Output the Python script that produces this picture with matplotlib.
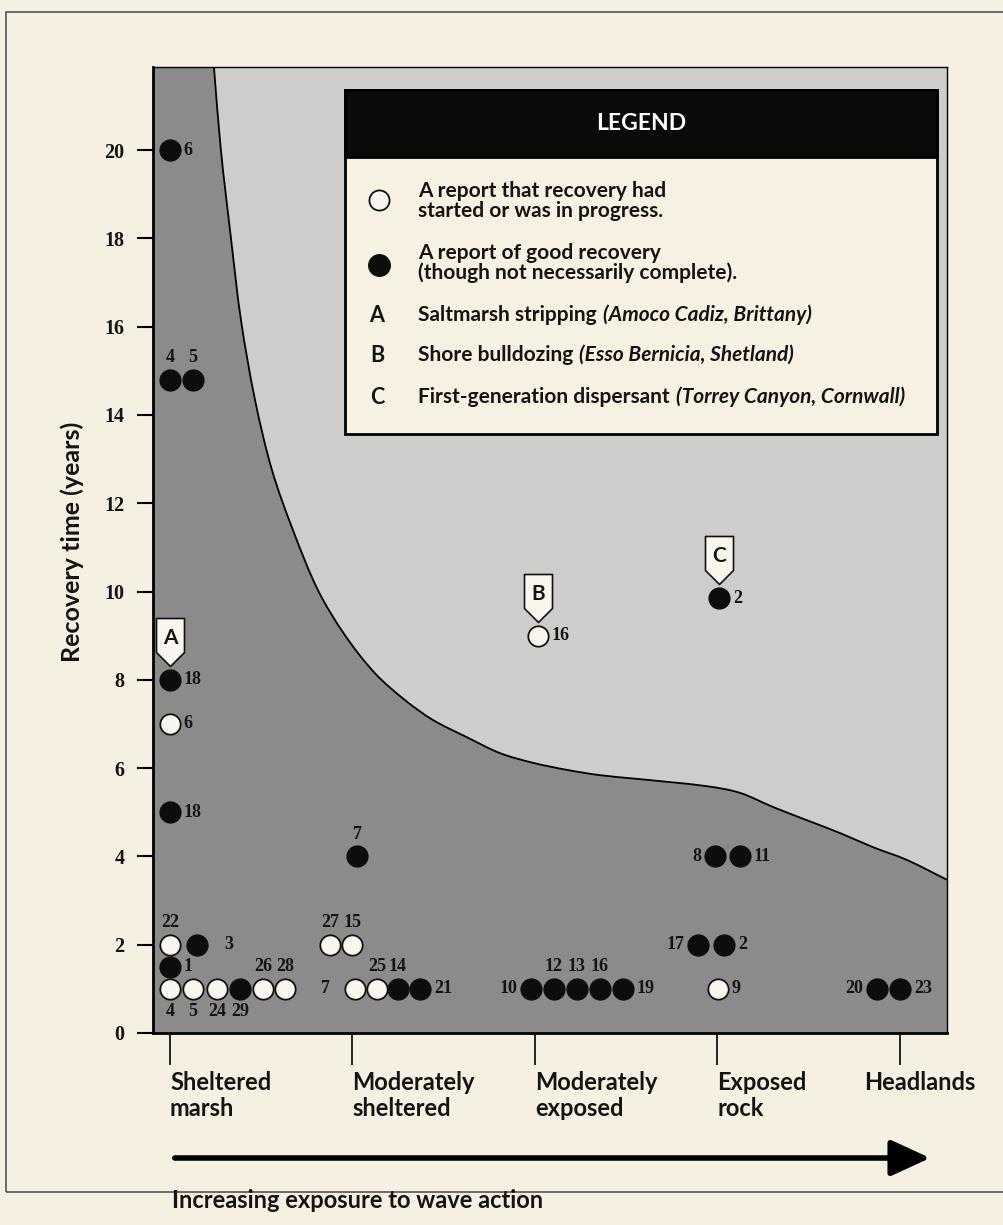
import numpy as np
import matplotlib
matplotlib.use("Agg")
import matplotlib.pyplot as plt
from matplotlib.path import Path
from matplotlib.patches import Rectangle, PathPatch, FancyArrowPatch
from matplotlib.transforms import ScaledTranslation

# ---- data ----
categories = ["Sheltered\nmarsh", "Moderately\nsheltered", "Moderately\nexposed",
              "Exposed\nrock", "Headlands"]
y_ticks = [0, 2, 4, 6, 8, 10, 12, 14, 16, 18, 20]

# boundary curve between the two shaded zones
curve_x = [0.241, 0.279, 0.334, 0.389, 0.466, 0.559, 0.674, 0.811, 0.959, 1.123,
           1.288, 1.441, 1.627, 1.808, 1.989, 2.175, 2.356, 2.575, 2.942, 3.123,
           3.304, 3.490, 3.671, 3.852, 4.038, 4.258]
curve_y = [21.88, 20.0, 18.01, 16.15, 14.34, 12.75, 11.39, 10.03, 9.01, 8.15,
           7.54, 7.09, 6.70, 6.34, 6.12, 5.96, 5.84, 5.75, 5.59, 5.44,
           5.12, 4.82, 4.53, 4.21, 3.92, 3.47]

# good recovery (filled)
good_x = [0.0, 0.0, 0.126, 0.0, 0.0, 0.148, 0.0, 0.384, 1.025, 1.249, 1.370,
          1.978, 2.104, 2.230, 2.356, 2.482, 3.008, 2.986, 3.123, 2.893, 3.036,
          3.874, 4.0]
good_y = [20, 14.8, 14.8, 8, 5, 2, 1.5, 1, 4, 1, 1,
          1, 1, 1, 1, 1, 9.85, 4, 4, 2, 2,
          1, 1]
good_lbl = ['6', '4', '5', '18', '18', '3', '1', '29', '7', '14', '21',
            '10', '12', '13', '16', '19', '2', '8', '11', '17', '2',
            '20', '23']
good_pos = ['r', 'a', 'a', 'r', 'r', 'R', 'r', 'b', 'a', 'a', 'r',
            'l', 'a', 'a', 'a', 'r', 'r', 'l', 'r', 'l', 'r',
            'l', 'r']

# recovery started / in progress (open)
started_x = [0.0, 0.0, 0.0, 0.126, 0.258, 0.510, 0.630, 0.877, 1.0, 1.014,
             1.134, 2.016, 3.003]
started_y = [7, 2, 1, 1, 1, 1, 1, 2, 2, 1, 1, 9, 1]
started_lbl = ['6', '22', '4', '5', '24', '26', '28', '27', '15', '7', '25', '16', '9']
started_pos = ['r', 'a', 'b', 'b', 'b', 'a', 'a', 'a', 'a', 'L', 'a', 'r', 'r']

# special cases A, B, C
flag_x = [0.0, 2.016, 3.008]
flag_y = [8, 9, 9.85]
flag_lbl = ['A', 'B', 'C']

legend_rows = [
    ("A", "Saltmarsh stripping", "(Amoco Cadiz, Brittany)"),
    ("B", "Shore bulldozing", "(Esso Bernicia, Shetland)"),
    ("C", "First-generation dispersant", "(Torrey Canyon, Cornwall)"),
]

# ---- style ----
W, H = 1004, 1225
BG = "#f6f0e3"
DARK = "#8b8b8b"
LIGHT = "#cdcdcb"
INK = "#141414"
SANS = ["Lato", "DejaVu Sans"]
SERIF = ["Liberation Serif", "DejaVu Serif"]
PT = 72 / 100  # points per pixel


def fx(px):
    return px / W


def fy(py):
    return 1 - py / H


def smooth_path(xs, ys, sx, sy):
    # smooth bezier through the read points; tangents worked out in screen-ish units
    s = np.array([sx, sy])
    q = np.column_stack([xs, ys]) * s
    n = len(q)
    tang = []
    for i in range(n):
        d = q[min(i + 1, n - 1)] - q[max(i - 1, 0)]
        tang.append(d / np.hypot(*d))
    verts, codes = [q[0]], [Path.MOVETO]
    for i in range(n - 1):
        seg = np.hypot(*(q[i + 1] - q[i])) / 3
        verts += [q[i] + tang[i] * seg, q[i + 1] - tang[i + 1] * seg, q[i + 1]]
        codes += [Path.CURVE4] * 3
    return [v / s for v in verts], codes


fig = plt.figure(figsize=(W / 100, H / 100), dpi=100, facecolor=BG)

# outer frame
fig.patches.append(Rectangle((fx(6), fy(1192)), fx(1010) - fx(6), fy(12) - fy(1192),
                             transform=fig.transFigure, fill=False,
                             edgecolor="#555555", lw=1.2))

ax = fig.add_axes([fx(153), fy(1033), fx(947) - fx(153), fy(67) - fy(1033)])
ax.set_facecolor(DARK)
ax.set_xlim(-0.093, 4.258)
ax.set_ylim(0, 21.88)

cv, cc = smooth_path(curve_x, curve_y, 182.5, 44.15)
x_hi = 4.4
fill_verts = cv + [(x_hi, curve_y[-1]), (x_hi, 23), (curve_x[0], 23), (curve_x[0], curve_y[0])]
fill_codes = cc + [Path.LINETO] * 3 + [Path.CLOSEPOLY]
ax.add_patch(PathPatch(Path(fill_verts, fill_codes), facecolor=LIGHT,
                       edgecolor="none", zorder=1))
ax.add_patch(PathPatch(Path(cv, cc), fill=False, edgecolor="black", lw=1.3, zorder=2))


def label_points(xs, ys, labels, positions):
    offs = {'r': ((10, 0), 'left', 'center'),
            'R': ((20, 0), 'left', 'center'),
            'l': ((-10, 0), 'right', 'center'),
            'L': ((-18, 0), 'right', 'center'),
            'a': ((0, 16), 'center', 'center'),
            'b': ((0, -16), 'center', 'center')}
    for x, y, t, p in zip(xs, ys, labels, positions):
        off, ha, va = offs[p]
        ax.annotate(t, (x, y), xytext=off, textcoords="offset points",
                    ha=ha, va=va, fontsize=13, fontweight="bold",
                    family=SERIF, color=INK, zorder=5)


ax.scatter(good_x, good_y, s=225, color="#0d0d0d", edgecolor="#0d0d0d",
           lw=1.0, zorder=4)
ax.scatter(started_x, started_y, s=215, color="#f8f6ef", edgecolor="#111111",
           lw=1.3, zorder=4)
label_points(good_x, good_y, good_lbl, good_pos)
label_points(started_x, started_y, started_lbl, started_pos)

# flag markers (tip just above the circle)
flag_verts = [(0, 14), (-14, 28), (-14, 62), (14, 62), (14, 28), (0, 14)]
flag_path = Path(flag_verts, [Path.MOVETO] + [Path.LINETO] * 4 + [Path.CLOSEPOLY])
ax.plot(flag_x, flag_y, ls="none", marker=flag_path, markersize=2 * 62 * PT,
        markerfacecolor="#f8f6ef", markeredgecolor="#111111", markeredgewidth=1.2,
        zorder=4)
for x, y, t in zip(flag_x, flag_y, flag_lbl):
    ax.annotate(t, (x, y), xytext=(0, 42 * PT), textcoords="offset points",
                ha="center", va="center", fontsize=15, fontweight="bold",
                family=SANS, color=INK, zorder=5)

# axes styling
for side in ["top", "right"]:
    ax.spines[side].set_linewidth(1.0)
for side in ["left", "bottom"]:
    ax.spines[side].set_linewidth(2.0)

ax.set_yticks(y_ticks)
ax.set_yticklabels([str(v) for v in y_ticks], fontsize=14.5, fontweight="bold",
                   family=SERIF, color=INK)
ax.tick_params(axis="y", length=16 * PT, width=1.5, pad=9, color="black")
ax.set_xticks(range(len(categories)))
ax.set_xticklabels(categories, fontsize=17, fontweight="bold", family=SANS,
                   linespacing=1.2, va="top", color=INK)
ax.tick_params(axis="x", length=32 * PT, width=1.2, pad=4, color="black")
for i, lab in enumerate(ax.get_xticklabels()):
    if i < len(categories) - 1:
        lab.set_ha("left")
    else:
        lab.set_ha("center")
        lab.set_transform(lab.get_transform() + ScaledTranslation(20 / 100, 0, fig.dpi_scale_trans))

fig.text(fx(72), fy(542), "Recovery time (years)", rotation=90, ha="center",
         va="center", fontsize=18, fontweight="bold", family=SANS, color=INK)

# exposure arrow
fig.add_artist(FancyArrowPatch(
    (fx(172), fy(1158)), (fx(933), fy(1158)), transform=fig.transFigure,
    arrowstyle="-|>,head_length=1.2,head_width=0.55", mutation_scale=20,
    lw=4, color="black"))
fig.text(fx(172), fy(1200), "Increasing exposure to wave action", ha="left",
         va="center", fontsize=17, fontweight="bold", family=SANS, color=INK)

# ---- legend box (pixel coordinates inside its own axes) ----
lx0, ly0, lx1, ly1 = 345, 90, 937, 434
lax = fig.add_axes([fx(lx0), fy(ly1), fx(lx1) - fx(lx0), fy(ly0) - fy(ly1)], zorder=10)
lax.set_xlim(lx0, lx1)
lax.set_ylim(ly1, ly0)
lax.axis("off")
lax.add_patch(Rectangle((lx0, ly0), lx1 - lx0, ly1 - ly0, facecolor="#f7f1e4",
                        edgecolor="black", lw=2, clip_on=False))
lax.add_patch(Rectangle((lx0, ly0), lx1 - lx0, 67, facecolor="#0a0a0a",
                        edgecolor="black", lw=2, clip_on=False))
lax.text((lx0 + lx1) / 2, 123, "LEGEND", color="white", ha="center", va="center",
         fontsize=16.5, fontweight="bold", family=SANS)

lax.scatter([379], [200], s=210, color="#f8f6ef", edgecolor="#111111", lw=1.3,
            clip_on=False)
lax.scatter([379], [265], s=240, color="#0d0d0d", clip_on=False)
lax.text(418, 201, "A report that recovery had\nstarted or was in progress.",
         ha="left", va="center", fontsize=15, fontweight="bold", family=SANS,
         linespacing=0.95, color=INK)
lax.text(418, 263, "A report of good recovery\n(though not necessarily complete).",
         ha="left", va="center", fontsize=15, fontweight="bold", family=SANS,
         linespacing=0.95, color=INK)

renderer = fig.canvas.get_renderer()
for (letter, plain, ital), yy in zip(legend_rows, [315, 355, 397]):
    lax.text(377, yy, letter, ha="center", va="center", fontsize=15.5,
             fontweight="bold", family=SANS, color=INK)
    t = lax.text(418, yy, plain, ha="left", va="center", fontsize=15,
                 fontweight="bold", family=SANS, color=INK)
    bb = t.get_window_extent(renderer)
    x_end = lax.transData.inverted().transform((bb.x1, bb.y0))[0]
    lax.text(x_end + 6, yy, ital, ha="left", va="center", fontsize=15,
             fontweight="bold", fontstyle="italic", family=SANS, color=INK)

fig.savefig("out.png", dpi=100, facecolor=BG)
